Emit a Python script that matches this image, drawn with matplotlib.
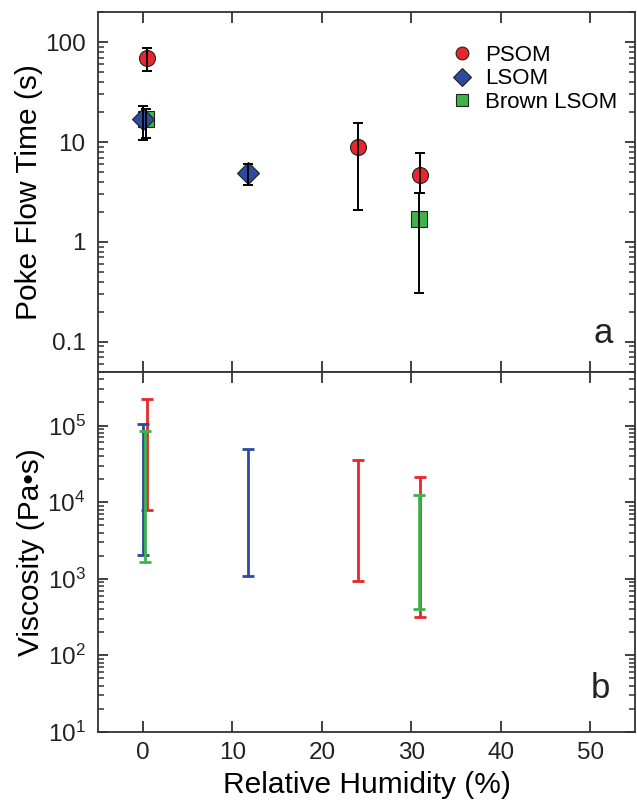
import matplotlib
matplotlib.use("Agg")
import matplotlib.pyplot as plt
import numpy as np
from matplotlib.ticker import FixedLocator, FuncFormatter, LogLocator, NullFormatter

plt.rcParams['font.family'] = ['Liberation Sans', 'DejaVu Sans']

# Panel a: poke flow time (s)
psom_rh = [0.5, 24.0, 31.0]
psom_t = [69, 8.9, 4.7]
psom_lo = [51, 2.1, 3.1]
psom_hi = [88, 15.6, 7.7]

lsom_rh = [0.0, 11.8]
lsom_t = [16.9, 4.9]
lsom_lo = [10.5, 3.7]
lsom_hi = [23.0, 6.0]

brown_rh = [0.4, 30.9]
brown_t = [16.9, 1.7]
brown_lo = [11.0, 0.31]
brown_hi = [21.5, 3.1]

# Panel b: viscosity ranges (Pa s)
psom_v_lo = [8000, 940, 320]
psom_v_hi = [2.2e5, 3.5e4, 2.1e4]
lsom_v_lo = [2060, 1070]
lsom_v_hi = [1.05e5, 4.9e4]
brown_v_rh = [0.2, 30.9]
brown_v_lo = [1650, 400]
brown_v_hi = [8.6e4, 1.23e4]

RED = '#e8262b'
BLUE = '#2c4a9e'
GREEN = '#3cb44a'
AXC = '#333333'

fig = plt.figure(figsize=(6.37, 8.06), dpi=100)
ax1 = fig.add_axes([0.154, 0.5385, 0.843, 0.4465])
ax2 = fig.add_axes([0.154, 0.092, 0.843, 0.4465], sharex=ax1)


def yerr(v, lo, hi):
    v, lo, hi = np.array(v), np.array(lo), np.array(hi)
    return [v - lo, hi - v]


# ---- panel a ----
ax1.plot(psom_rh, psom_t, 'o', ms=11.5, mfc=RED, mec='#222222', mew=0.8, label='PSOM', zorder=2)
ax1.plot(lsom_rh, lsom_t, 'D', ms=11, mfc=BLUE, mec='#222222', mew=0.8, label='LSOM', zorder=2)
ax1.plot(brown_rh, brown_t, 's', ms=11, mfc=GREEN, mec='#222222', mew=0.8, label='Brown LSOM', zorder=1.9)
for x, v, lo, hi in [(psom_rh, psom_t, psom_lo, psom_hi),
                     (lsom_rh, lsom_t, lsom_lo, lsom_hi),
                     (brown_rh, brown_t, brown_lo, brown_hi)]:
    ax1.errorbar(x, v, yerr=yerr(v, lo, hi), fmt='none', ecolor='black',
                 elinewidth=1.4, capsize=3.6, capthick=1.4, zorder=3)

ax1.set_yscale('log')
ax1.set_ylim(0.05, 200)
ax1.yaxis.set_major_locator(FixedLocator([0.1, 1, 10, 100]))
ax1.yaxis.set_major_formatter(FuncFormatter(lambda v, p: f"{v:g}"))
ax1.yaxis.set_minor_locator(LogLocator(base=10, subs=np.arange(2, 10), numticks=20))
ax1.yaxis.set_minor_formatter(NullFormatter())
ax1.set_ylabel('Poke Flow Time (s)', fontsize=21.5, labelpad=1.5)
ax1.tick_params(axis='x', labelbottom=False)
ax1.text(0.94, 0.107, 'a', transform=ax1.transAxes, fontsize=25, ha='center', va='center', color='#222222')

leg = ax1.legend(loc='upper right', bbox_to_anchor=(1.004, 0.965), frameon=False, fontsize=16,
                 handletextpad=0.45, labelspacing=0.12, markerscale=0.8, handlelength=1.2)

# ---- panel b ----
for x, lo, hi, c in [(psom_rh, psom_v_lo, psom_v_hi, RED),
                     (lsom_rh, lsom_v_lo, lsom_v_hi, BLUE),
                     (brown_v_rh, brown_v_lo, brown_v_hi, GREEN)]:
    lo_a, hi_a = np.array(lo), np.array(hi)
    ax2.errorbar(x, lo_a, yerr=[np.zeros_like(lo_a), hi_a - lo_a], fmt='none', ecolor=c,
                 elinewidth=2, capsize=4.5, capthick=2)

ax2.set_yscale('log')
ax2.set_ylim(10, 5e5)
ax2.yaxis.set_major_locator(FixedLocator([1e1, 1e2, 1e3, 1e4, 1e5]))
ax2.yaxis.set_major_formatter(FuncFormatter(lambda v, p: r'$\mathregular{10^{%d}}$' % round(np.log10(v))))
ax2.yaxis.set_minor_locator(LogLocator(base=10, subs=np.arange(2, 10), numticks=20))
ax2.yaxis.set_minor_formatter(NullFormatter())
ax2.set_ylabel('Viscosity (Pa•s)', fontsize=21.5, labelpad=1.5)
ax2.set_xlabel('Relative Humidity (%)', fontsize=21.5, labelpad=5)
ax2.text(0.935, 0.12, 'b', transform=ax2.transAxes, fontsize=25, ha='center', va='center', color='#222222')

ax2.set_xlim(-5, 55)
ax2.set_xticks([0, 10, 20, 30, 40, 50])

for ax in (ax1, ax2):
    for s in ax.spines.values():
        s.set_linewidth(1.3)
        s.set_color(AXC)
    ax.tick_params(which='both', direction='in', top=True, right=True, color=AXC,
                   labelsize=17.5, labelcolor='#222222')
    ax.tick_params(which='major', length=8, width=1.3)
    ax.tick_params(which='minor', length=4, width=1.1)
    ax.tick_params(axis='y', which='major', length=7, pad=9)
ax2.tick_params(axis='x', pad=7)

fig.savefig('out.png', dpi=100)
